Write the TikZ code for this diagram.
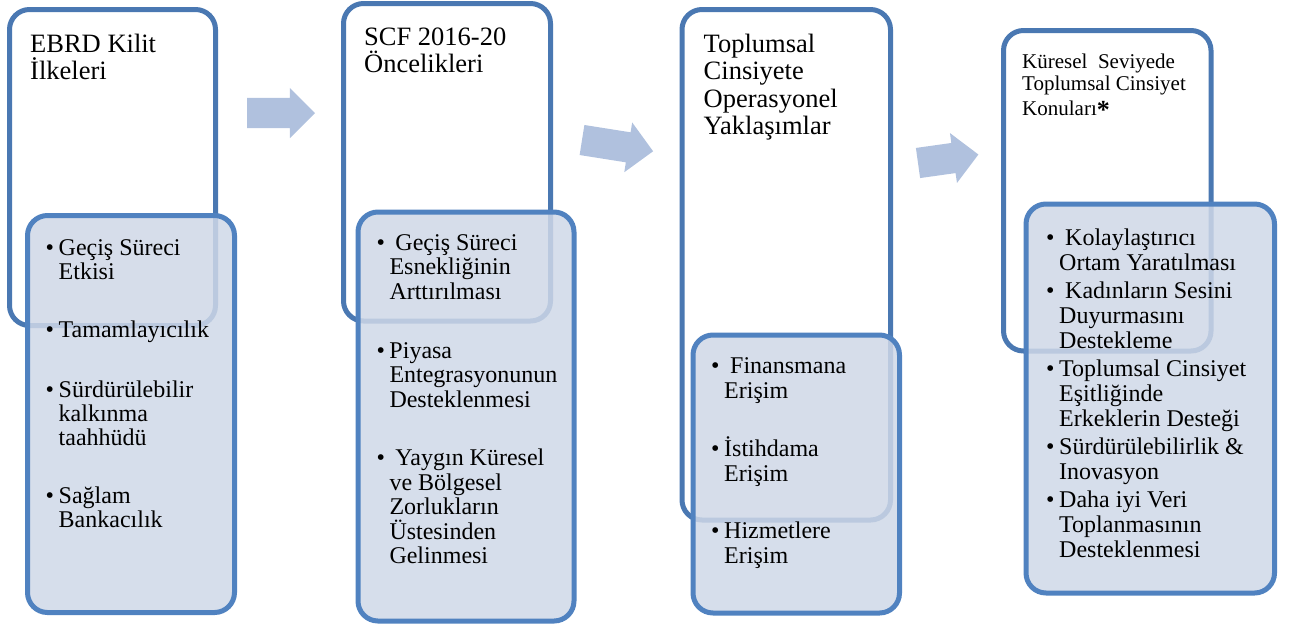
\documentclass[tikz,border=0pt]{standalone}
\usepackage{fontspec}
\setmainfont{Liberation Serif}
\usepackage{tikz}
\usetikzlibrary{shapes.arrows}
\definecolor{framedark}{RGB}{74,120,178}
\definecolor{framelight}{RGB}{80,130,192}
\definecolor{panel}{RGB}{207,216,231}
\definecolor{flowblue}{RGB}{176,193,222}
\newcommand{\strt}[1][22pt]{\rule{0pt}{#1}}
\newcommand{\blt}{\makebox[13pt][l]{\textbullet}}
\newcommand{\cont}{\hspace*{13pt}}
\tikzset{outerbox/.style = {draw=framedark, line width=5pt, rounded corners=20pt, fill=white, anchor=north west, inner sep=0pt, outer sep=0pt}}
\tikzset{innerbox/.style = {draw=framelight, line width=5pt, rounded corners=20pt, fill=panel, fill opacity=.85, anchor=north west, inner sep=0pt, outer sep=0pt}}
\tikzset{head/.style = {anchor=north west, inner sep=0pt, align=left, font={\fontsize{26.5}{27.5}\selectfont\lineskiplimit=-100pt}}}
\tikzset{bullets/.style = {anchor=north west, inner sep=0pt, align=left, font={\fontsize{24}{#1}\selectfont\lineskiplimit=-100pt}}}
\tikzset{flow/.style = {single arrow, fill=flowblue, draw=none, anchor=tail, inner xsep=0pt, inner ysep=15pt, single arrow head extend=10pt, single arrow tip angle=90, outer sep=0pt}}

\begin{document}
\begin{tikzpicture}[x=1pt,y=-1pt]
\useasboundingbox (0,0) rectangle (1290,625);
% EBRD
\node[outerbox, minimum width=206pt, minimum height=316pt] (ebrd) at (9.5,9.5) {};
\node[head] (ebrdtitle) at (30,28) {\strt[24pt]EBRD Kilit\\İlkeleri};
\node[innerbox, minimum width=207pt, minimum height=397pt] (ebrdbox) at (27.5,215.5) {};
\node[bullets=24pt] (ebrditems) at (45.5,233) {\strt\blt Geçiş Süreci\\\cont Etkisi\\[34pt]
  \blt Tamamlayıcılık\\[36pt]
  \blt Sürdürülebilir\\\cont kalkınma\\\cont taahhüdü\\[34pt]
  \blt Sağlam\\\cont Bankacılık};
%
\node[flow, minimum height=68pt] (arone) at (247,113) {};
%
% SCF
\node[outerbox, minimum width=207pt, minimum height=317.5pt] (scf) at (343.5,3.5) {};
\node[head] (scftitle) at (364,21) {\strt[24pt]SCF 2016-20\\Öncelikleri};
\node[innerbox, minimum width=216pt, minimum height=409pt] (scfbox) at (358,212) {};
\node[bullets=24.5pt] (scfitems) at (376.3,228) {\strt\blt\ Geçiş Süreci\\\cont Esnekliğinin\\\cont Arttırılması\\[34.5pt]
  \blt Piyasa\\\cont Entegrasyonunun\\\cont Desteklenmesi\\[34pt]
  \blt\ Yaygın Küresel\\\cont ve Bölgesel\\\cont Zorlukların\\\cont Üstesinden\\\cont Gelinmesi};
%
\node[flow, minimum height=72pt, rotate=-9] (artwo) at (582,140) {};
%
% operasyonel
\node[outerbox, minimum width=208.5pt, minimum height=510.5pt] (ops) at (682,9.5) {};
\node[head] (opstitle) at (703.5,28) {\strt[24pt]Toplumsal\\Cinsiyete\\Operasyonel\\Yaklaşımlar};
\node[innerbox, minimum width=206.5pt, minimum height=278pt] (opsbox) at (693,335) {};
\node[bullets=25pt] (opsitems) at (711,351) {\strt\blt\ Finansmana\\\cont Erişim\\[33pt]
  \blt İstihdama\\\cont Erişim\\[32pt]
  \blt Hizmetlere\\\cont Erişim};
%
\node[flow, minimum height=61pt, rotate=8] (arthree) at (918,163) {};
%
% kuresel
\node[outerbox, minimum width=207.5pt, minimum height=320.5pt] (glob) at (1003.5,30.5) {};
\node[head, font={\fontsize{21}{22}\selectfont\lineskiplimit=-100pt}] (globtitle) at (1022,48) {\strt[20pt]Küresel\ \ Seviyede\\Toplumsal Cinsiyet\\[3pt]Konuları\raisebox{-3pt}{\fontsize{26}{26}\selectfont\bfseries *}};
\node[innerbox, minimum width=248.5pt, minimum height=389pt] (globbox) at (1026,204) {};
\node[bullets=25pt] (globitems) at (1046,223) {\strt\blt\ Kolaylaştırıcı\\\cont Ortam Yaratılması\\[3pt]
  \blt\ Kadınların Sesini\\\cont Duyurmasını\\\cont Destekleme\\[3pt]
  \blt Toplumsal Cinsiyet\\\cont Eşitliğinde\\\cont Erkeklerin Desteği\\[3pt]
  \blt Sürdürülebilirlik \&\\\cont Inovasyon\\[3pt]
  \blt Daha iyi Veri\\\cont Toplanmasının\\\cont Desteklenmesi};
\end{tikzpicture}
\end{document}
